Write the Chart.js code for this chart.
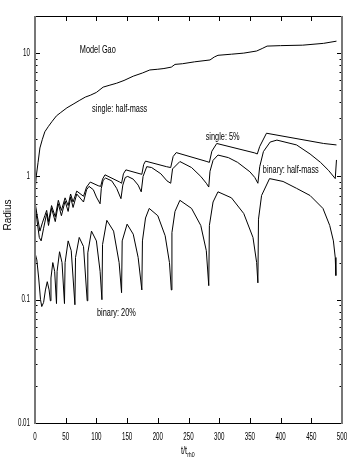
<!DOCTYPE html>
<html>
<head>
<meta charset="utf-8">
<script src="https://cdn.jsdelivr.net/npm/chart.js@4/dist/chart.umd.min.js"></script>
<style>
  html, body { margin: 0; padding: 0; background: #fff; }
  #wrap { width: 354px; height: 463px; }
</style>
</head>
<body>
<div id="wrap"><canvas id="radiusChart" width="354" height="463"></canvas></div>
<script>
// values (time in units of t_rh0, radius on a log axis)
const xTicks = [0, 50, 100, 150, 200, 250, 300, 350, 400, 450, 500];
const yTicks = [0.01, 0.1, 1, 10];

const tSingleHalf = [0, 2, 5, 8, 12, 16, 22, 28, 35, 42, 52, 62, 73, 82, 90, 100, 111, 122, 133, 145, 160, 175, 187, 200, 210, 222, 228, 240, 260, 285, 292, 298, 320, 340, 361, 370, 378, 400, 436, 470, 491];
const rSingleHalf = [0.75, 1.0, 1.3, 1.7, 2.0, 2.3, 2.55, 2.8, 3.1, 3.3, 3.6, 3.85, 4.15, 4.4, 4.55, 4.8, 5.3, 5.5, 5.7, 6.0, 6.5, 6.9, 7.3, 7.4, 7.5, 7.7, 8.1, 8.2, 8.5, 8.8, 9.3, 9.6, 9.8, 10.0, 10.4, 10.9, 11.4, 11.5, 11.6, 12.0, 12.5];

const tSingle5 = [0, 3, 8, 12, 16, 19, 22, 27, 33, 38, 43, 49, 54, 58, 62, 68, 79, 84, 90, 103, 107, 110, 114, 138, 141, 144, 148, 171, 174, 177, 180, 214, 221, 225, 230, 280, 284, 288, 296, 358, 362, 366, 377, 470, 491];
const rSingle5 = [0.62, 0.5, 0.36, 0.42, 0.48, 0.53, 0.43, 0.58, 0.47, 0.64, 0.53, 0.67, 0.58, 0.72, 0.62, 0.76, 0.69, 0.82, 0.9, 0.84, 0.83, 0.95, 1.03, 0.9, 0.88, 1.05, 1.13, 1.05, 1.04, 1.25, 1.33, 1.2, 1.18, 1.45, 1.56, 1.32, 1.3, 1.6, 1.85, 1.55, 1.52, 1.75, 2.24, 1.85, 1.8];

const tBinaryHalf = [0, 3, 7, 10, 14, 19, 22, 27, 33, 38, 43, 49, 54, 58, 62, 68, 79, 84, 88, 95, 100, 106, 108, 111, 115, 125, 133, 140, 143, 147, 151, 160, 168, 173, 176, 182, 190, 205, 215, 221, 224, 236, 255, 270, 279, 283, 285, 290, 298, 315, 330, 350, 358, 363, 366, 372, 383, 394, 426, 448, 465, 478, 489, 491];
const rBinaryHalf = [0.6, 0.45, 0.32, 0.3, 0.38, 0.5, 0.4, 0.55, 0.43, 0.6, 0.48, 0.63, 0.52, 0.68, 0.56, 0.72, 0.62, 0.78, 0.83, 0.78, 0.68, 0.6, 0.8, 0.93, 0.97, 0.92, 0.8, 0.66, 0.85, 0.98, 1.0, 0.95, 0.85, 0.75, 1.0, 1.2, 1.18, 1.05, 0.92, 0.88, 1.15, 1.32, 1.18, 1.0, 0.88, 0.82, 1.1, 1.35, 1.49, 1.42, 1.3, 1.09, 0.98, 0.88, 1.2, 1.59, 1.9, 1.97, 1.8, 1.52, 1.3, 1.12, 0.96, 1.36];

const tBinary20 = [0, 3, 6, 9, 11, 14, 17, 20, 23, 25, 26, 29, 32, 35, 36, 40, 44, 48, 49, 54, 59, 65, 66, 72, 79, 85, 86, 92, 100, 106, 109, 110, 117, 128, 137, 141, 142, 150, 160, 168, 174, 175, 180, 186, 200, 212, 219, 222, 223, 228, 236, 255, 270, 279, 283, 284, 290, 298, 320, 340, 355, 361, 363, 364, 369, 382, 404, 426, 448, 469, 480, 486, 489, 490];
const rBinary20 = [0.24, 0.21, 0.15, 0.1, 0.088, 0.095, 0.12, 0.14, 0.12, 0.098, 0.15, 0.2, 0.17, 0.093, 0.17, 0.245, 0.2, 0.093, 0.2, 0.3, 0.25, 0.091, 0.22, 0.32, 0.27, 0.098, 0.24, 0.36, 0.3, 0.17, 0.1, 0.28, 0.44, 0.36, 0.2, 0.114, 0.3, 0.41, 0.34, 0.22, 0.12, 0.3, 0.46, 0.55, 0.48, 0.33, 0.2, 0.12, 0.35, 0.52, 0.64, 0.55, 0.4, 0.25, 0.13, 0.4, 0.62, 0.75, 0.67, 0.5, 0.32, 0.2, 0.137, 0.45, 0.7, 0.96, 0.91, 0.8, 0.7, 0.55, 0.4, 0.3, 0.22, 0.157];

// curve labels: [text, t, radius] (left edge, vertical middle)
const curveLabels = [
    ['Model Gao', 73, 10.6],
    ['single: half-mass', 93, 3.5],
    ['single: 5%', 278, 2.07],
    ['binary: half-mass', 371, 1.12],
    ['binary: 20%', 101, 0.078]
];

const FONT = "'Liberation Sans', Arial, sans-serif";

function pts(ts, rs) {
    return ts.map((t, i) => ({ x: t, y: rs[i] }));
}

function line(data) {
    return {
        data: data,
        borderColor: '#000',
        borderWidth: 1,
        pointRadius: 0,
        tension: 0,
        fill: false
    };
}

// the original uses a very narrow face, so squeeze the text horizontally
function narrowText(ctx, txt, x, y, size, align, squeeze) {
    ctx.save();
    ctx.font = size + 'px ' + FONT;
    const w = ctx.measureText(txt).width * squeeze;
    let left = x;
    if (align === 'center') left = x - w / 2;
    if (align === 'right') left = x - w;
    ctx.translate(left, y);
    ctx.scale(squeeze, 1);
    ctx.textAlign = 'left';
    ctx.textBaseline = 'middle';
    ctx.fillText(txt, 0, 0);
    ctx.restore();
    return w;
}

const decorations = {
    id: 'decorations',
    afterDraw(chart) {
        const ctx = chart.ctx;
        const a = chart.chartArea;
        const xs = chart.scales.x;
        const ys = chart.scales.y;
        ctx.save();
        ctx.fillStyle = '#000';

        // inward ticks on x (bottom and top)
        ctx.strokeStyle = '#000';
        ctx.lineWidth = 1;
        ctx.beginPath();
        xTicks.forEach(v => {
            const px = Math.round(xs.getPixelForValue(v)) + 0.5;
            ctx.moveTo(px, a.bottom); ctx.lineTo(px, a.bottom - 5);
            ctx.moveTo(px, a.top); ctx.lineTo(px, a.top + 5);
        });
        // y: decades long, the rest short, both sides
        for (let d = 0.01; d < 20; d *= 10) {
            for (let m = 1; m <= 9; m++) {
                const v = d * m;
                if (v > 20) break;
                const py = Math.round(ys.getPixelForValue(v)) + 0.5;
                const len = m === 1 ? 5 : 2.5;
                ctx.moveTo(a.left, py); ctx.lineTo(a.left + len, py);
                ctx.moveTo(a.right, py); ctx.lineTo(a.right - len, py);
            }
        }
        ctx.stroke();

        // frame
        ctx.beginPath();
        ctx.moveTo(a.left, a.top + 0.5); ctx.lineTo(a.right, a.top + 0.5);
        ctx.moveTo(a.left, a.bottom + 0.5); ctx.lineTo(a.right, a.bottom + 0.5);
        ctx.stroke();
        ctx.beginPath();
        ctx.strokeStyle = '#777';
        ctx.lineWidth = 2;
        ctx.moveTo(a.left, a.top); ctx.lineTo(a.left, a.bottom + 1);
        ctx.moveTo(a.right, a.top); ctx.lineTo(a.right, a.bottom + 1);
        ctx.stroke();

        // tick labels
        xTicks.forEach(v => {
            narrowText(ctx, String(v), xs.getPixelForValue(v), a.bottom + 14, 10, 'center', 0.62);
        });
        yTicks.forEach(v => {
            narrowText(ctx, String(v), a.left - 5, ys.getPixelForValue(v), 10, 'right', 0.62);
        });

        // curve labels
        curveLabels.forEach(([txt, t, r]) => {
            narrowText(ctx, txt, xs.getPixelForValue(t), ys.getPixelForValue(r), 10.5, 'left', 0.7);
        });

        // y title
        ctx.save();
        ctx.translate(8, 215);
        ctx.rotate(-Math.PI / 2);
        ctx.textAlign = 'center';
        ctx.textBaseline = 'middle';
        ctx.font = '10px ' + FONT;
        ctx.fillText('Radius', 0, 0);
        ctx.restore();

        // x title t/t_rh0
        const w = narrowText(ctx, 't/t', 181, 451, 10.5, 'left', 0.7);
        narrowText(ctx, 'rh0', 181 + w, 455, 7.5, 'left', 0.7);

        ctx.restore();
    }
};

const ctx = document.getElementById('radiusChart').getContext('2d');
new Chart(ctx, {
    type: 'line',
    data: {
        datasets: [
            line(pts(tSingleHalf, rSingleHalf)),
            line(pts(tSingle5, rSingle5)),
            line(pts(tBinaryHalf, rBinaryHalf)),
            line(pts(tBinary20, rBinary20))
        ]
    },
    options: {
        responsive: false,
        animation: false,
        devicePixelRatio: 1,
        layout: { padding: { left: 0, top: 16, right: 12, bottom: 0 } },
        plugins: { legend: { display: false }, tooltip: { enabled: false } },
        scales: {
            x: {
                type: 'linear',
                min: 0,
                max: 500,
                afterFit: s => { s.height = 40; },
                afterBuildTicks: s => { s.ticks = xTicks.map(v => ({ value: v })); },
                grid: { display: false, drawTicks: false },
                border: { display: false },
                ticks: { display: false }
            },
            y: {
                type: 'logarithmic',
                min: 0.01,
                max: 20,
                afterFit: s => { s.width = 35; },
                afterBuildTicks: s => { s.ticks = yTicks.map(v => ({ value: v })); },
                grid: { display: false, drawTicks: false },
                border: { display: false },
                ticks: { display: false }
            }
        }
    },
    plugins: [decorations]
});
</script>
</body>
</html>
